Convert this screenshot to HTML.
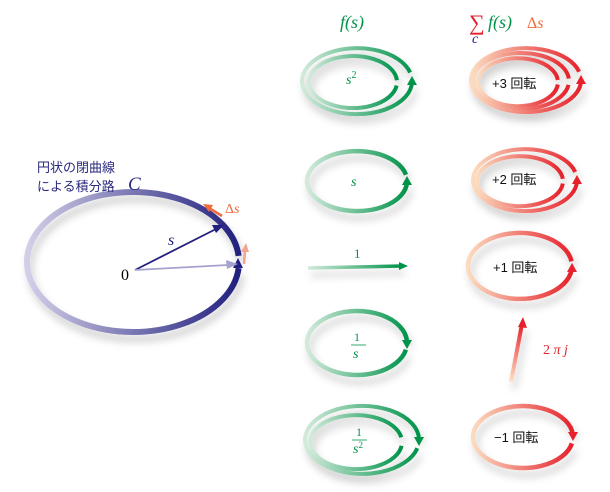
<!DOCTYPE html>
<html><head><meta charset="utf-8"><style>
html,body{margin:0;padding:0;background:#fff;}
svg{display:block}
.m{font-family:"Liberation Serif",serif;font-style:italic}
.j{font-family:"Liberation Sans","Noto Sans CJK JP",sans-serif}
</style></head><body>
<svg width="610" height="492" viewBox="0 0 610 492" xmlns="http://www.w3.org/2000/svg">
<defs>
<linearGradient id="g" x1="0" x2="1" y1="0" y2="0"><stop offset="0" stop-color="#d3eadb"/><stop offset="1" stop-color="#00934a"/></linearGradient>
<linearGradient id="r" x1="0" x2="1" y1="0" y2="0"><stop offset="0" stop-color="#fbdcc0"/><stop offset="1" stop-color="#e6212b"/></linearGradient>
<linearGradient id="b" x1="0" x2="1" y1="0" y2="0"><stop offset="0" stop-color="#d2cfe8"/><stop offset="1" stop-color="#22207e"/></linearGradient>
<linearGradient id="ru" x1="0" x2="0" y1="1" y2="0"><stop offset="0" stop-color="#fce3c8"/><stop offset="1" stop-color="#e6212b"/></linearGradient>
<filter id="sh" x="-20%" y="-20%" width="150%" height="160%"><feDropShadow dx="3" dy="7" stdDeviation="4" flood-color="#000" flood-opacity="0.2"/></filter>
</defs>
<g fill="none" stroke-linecap="butt" filter="url(#sh)">
<path d="M238.6,255.9 A106 70 0 1 0 238.6,268.1" stroke="url(#b)" stroke-width="6"/>
<path d="M396.9,80.2 A44 26 0 1 0 396.6,85.6" stroke="url(#g)" stroke-width="4"/>
<path d="M410.1,72.5 A55 33 0 1 0 412,82.2" stroke="url(#g)" stroke-width="4"/>
<path d="M405.9,174.8 A50 30 0 1 0 407,182" stroke="url(#g)" stroke-width="4.5"/>
<path d="M308,268 L402,266" stroke="url(#g)" stroke-width="3.5"/>
<path d="M405.9,349.7 A50 32 0 1 1 406.9,340.8" stroke="url(#g)" stroke-width="4.5"/>
<path d="M401.6,445.8 A46 27 0 1 1 401.3,437.3" stroke="url(#g)" stroke-width="4"/>
<path d="M417.3,448.2 A57 34 0 1 1 419,438.8" stroke="url(#g)" stroke-width="4"/>
<path d="M557.8,79.9 A40 24 0 1 0 557.8,84.5" stroke="url(#r)" stroke-width="4"/>
<path d="M568.8,78.6 A48 28 0 1 0 568.5,84.9" stroke="url(#r)" stroke-width="4"/>
<path d="M579.1,71.7 A55 32 0 1 0 581,81.1" stroke="url(#r)" stroke-width="4"/>
<path d="M562.8,178.8 A43 25 0 1 0 562.8,183.6" stroke="url(#r)" stroke-width="4"/>
<path d="M575.2,172 A52 31 0 1 0 577,181.1" stroke="url(#r)" stroke-width="4"/>
<path d="M571.5,261.4 A52 33 0 1 0 571.7,269.4" stroke="url(#r)" stroke-width="4.5"/>
<path d="M571.9,443.4 A50 31 0 1 1 572.7,433.8" stroke="url(#r)" stroke-width="4.5"/>
<path d="M511,382 L522,324" stroke="url(#ru)" stroke-width="4"/>
</g>
<g>
<polygon points="238,258 233,268 243,268" fill="#22207e"/>
<polygon points="412,76 407,85 417,85" fill="#00934a"/>
<polygon points="407,176 402,185 412,185" fill="#00934a"/>
<polygon points="408,266 399,262 399,270" fill="#00934a"/>
<polygon points="407,349 402,340 412,340" fill="#00934a"/>
<polygon points="419,446 414,437 424,437" fill="#00934a"/>
<polygon points="581,75 576,84 586,84" fill="#e6212b"/>
<polygon points="577,175 572,184 582,184" fill="#e6212b"/>
<polygon points="572,263 567,272 577,272" fill="#e6212b"/>
<polygon points="573,441 568,432 578,432" fill="#e6212b"/>
<polygon points="523,317 518,327 527,328" fill="#e6212b"/>
</g>
<line x1="135" y1="270" x2="216" y2="229" stroke="#22207e" stroke-width="1.8"/>
<polygon points="224,225 212,225 216,233" fill="#22207e"/>
<line x1="135" y1="270" x2="228" y2="265" stroke="#a5a2d0" stroke-width="1.8"/>
<polygon points="238,264 226,260 227,269" fill="#a5a2d0"/>
<line x1="222" y1="216" x2="209" y2="208" stroke="#f06a3c" stroke-width="2.5"/>
<polygon points="203,204 213,205 209,212" fill="#f06a3c"/>
<line x1="244" y1="264" x2="245" y2="250" stroke="#f3a58e" stroke-width="2.5"/>
<polygon points="246,243 241,252 249,252" fill="#f3a58e"/>
<text x="37" y="172" class="j" font-size="13" fill="#2a2a80">円状の閉曲線</text>
<text x="37" y="191" class="j" font-size="13" fill="#2a2a80">による積分路</text>
<text x="128" y="190" class="m" font-size="19" fill="#2a2a80">C</text>
<text x="121" y="280" font-family="Liberation Serif,serif" font-size="16" fill="#000">0</text>
<text x="168" y="245" class="m" font-size="16" fill="#22207e">s</text>
<text x="225" y="213" font-family="Liberation Serif,serif" font-size="14" fill="#f06a3c">Δ<tspan class="m">s</tspan></text>
<text x="340" y="28" class="m" font-size="18" fill="#00934a">f(s)</text>
<text x="469" y="30" font-family="Liberation Serif,serif" font-size="22" fill="#e6212b">∑</text>
<text x="472" y="43" class="m" font-size="14" fill="#22207e">c</text>
<text x="488" y="28" class="m" font-size="18" fill="#00934a">f(s)</text>
<text x="527" y="28" font-family="Liberation Serif,serif" font-size="16" fill="#f06a3c">Δ<tspan class="m">s</tspan></text>
<text x="346" y="84" class="m" font-size="14" fill="#00934a">s<tspan dy="-6" font-size="10" font-style="normal">2</tspan></text>
<text x="351" y="186" class="m" font-size="14" fill="#00934a">s</text>
<text x="354" y="258" font-family="Liberation Serif,serif" font-size="13" fill="#00934a">1</text>
<text x="354" y="341" font-family="Liberation Serif,serif" font-size="12" fill="#00934a">1</text>
<line x1="351" y1="345" x2="366" y2="345" stroke="#00934a" stroke-width="0.8"/>
<text x="353" y="358" class="m" font-size="14" fill="#00934a">s</text>
<text x="356" y="436" font-family="Liberation Serif,serif" font-size="12" fill="#00934a">1</text>
<line x1="352" y1="440" x2="367" y2="440" stroke="#00934a" stroke-width="0.8"/>
<text x="353" y="453" class="m" font-size="14" fill="#00934a">s<tspan dy="-5" font-size="9" font-style="normal">2</tspan></text>
<text x="492" y="88" class="j" font-size="13" fill="#111">+3 回転</text>
<text x="492" y="184" class="j" font-size="13" fill="#111">+2 回転</text>
<text x="493" y="272" class="j" font-size="13" fill="#111">+1 回転</text>
<text x="494" y="442" class="j" font-size="13" fill="#111">−1 回転</text>
<text x="543" y="354" font-family="Liberation Serif,serif" font-size="14" fill="#e6212b">2 <tspan class="m">π j</tspan></text>
</svg>
</body></html>
